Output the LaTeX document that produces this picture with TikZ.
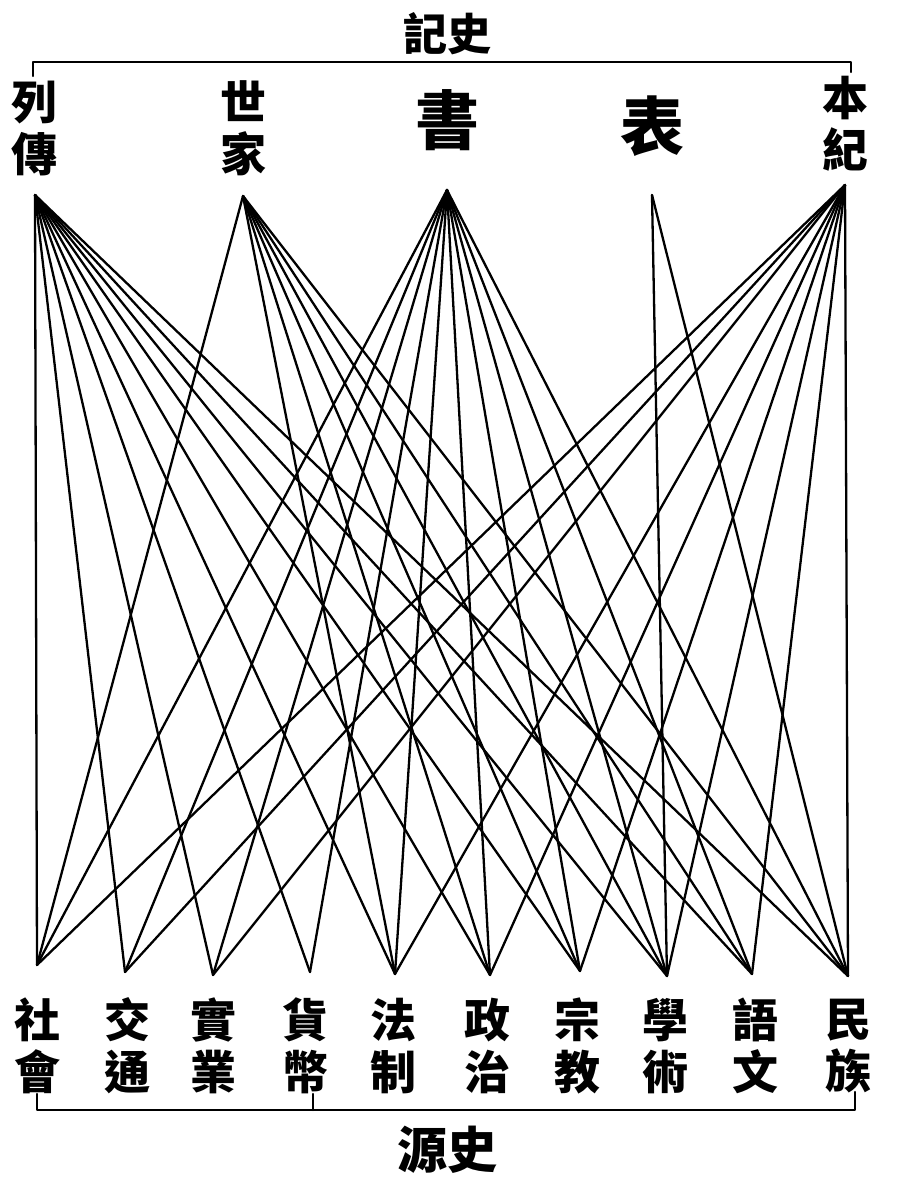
\documentclass[tikz,border=0pt]{standalone}
\usepackage{fontspec}
\newfontfamily\cjk{Noto Sans CJK TC}
\begin{document}
\begin{tikzpicture}[x=1pt,y=-1pt,
  link/.style={line width=2.3pt, line cap=round},
  brace/.style={line width=2.4pt, line cap=round, line join=round},
  lbl/.style={font=\cjk\bfseries\fontsize{46}{52}\selectfont, inner sep=0pt, align=center},
  big/.style={font=\cjk\bfseries\fontsize{64}{64}\selectfont, inner sep=0pt},
  title/.style={font=\cjk\bfseries\fontsize{44}{44}\selectfont, inner sep=0pt}]
\useasboundingbox[fill=white] (0,0) rectangle (898,1179);

% top bracket and title
\node[title] (shiji) at (447,34) {記史};
\coordinate (tbl) at (33,76);
\coordinate (tbr) at (851,72);
\draw[brace] (tbl) -- (33,62) -- (851,62) -- (tbr);

% top labels
\node[lbl] (liezhuan) at (35,128) {列\\傳};
\node[lbl] (shijia) at (243,128) {世\\家};
\node[big] (shu) at (447,120) {書};
\node[big] (biao) at (652,126) {表};
\node[lbl] (benji) at (845,124) {本\\紀};

% fan points
\coordinate (L) at (35,195);
\coordinate (S) at (243,196);
\coordinate (B) at (447,190);
\coordinate (T) at (652,195);
\coordinate (K) at (845,185);

\coordinate (b1) at (37,965);
\coordinate (b2) at (125,972);
\coordinate (b3) at (213,975);
\coordinate (b4) at (310,972);
\coordinate (b5) at (395,974);
\coordinate (b6) at (490,975);
\coordinate (b7) at (580,971);
\coordinate (b8) at (667,976);
\coordinate (b9) at (752,974);
\coordinate (b10) at (848,976);

% 列傳
\foreach \b in {b1,b2,b3,b4,b5,b6,b7,b8,b9,b10} \draw[link] (L) -- (\b);
% 世家
\foreach \b in {b1,b5,b6,b7,b8,b9,b10} \draw[link] (S) -- (\b);
% 書
\foreach \b in {b1,b2,b3,b4,b5,b6,b7,b8,b9,b10} \draw[link] (B) -- (\b);
% 表
\foreach \b in {b8,b10} \draw[link] (T) -- (\b);
% 本紀
\foreach \b in {b1,b2,b3,b5,b6,b7,b8,b9,b10} \draw[link] (K) -- (\b);

% bottom labels
\node[lbl] (shehui) at (37,1046) {社\\會};
\node[lbl] (jiaotong) at (127,1046) {交\\通};
\node[lbl] (shiye) at (213,1046) {實\\業};
\node[lbl] (huobi) at (305,1046) {貨\\幣};
\node[lbl] (fazhi) at (393,1046) {法\\制};
\node[lbl] (zhengzhi) at (487,1046) {政\\治};
\node[lbl] (zongjiao) at (577,1046) {宗\\教};
\node[lbl] (xueshu) at (665,1046) {學\\術};
\node[lbl] (yuwen) at (755,1046) {語\\文};
\node[lbl] (minzu) at (848,1046) {民\\族};

% bottom bracket and title
\coordinate (bbl) at (37,1094);
\coordinate (bbr) at (855,1092);
\coordinate (bbm) at (313,1094);
\draw[brace] (bbl) -- (37,1110) -- (855,1110) -- (bbr);
\draw[brace] (bbm) -- (313,1110);
\node[title,font=\cjk\bfseries\fontsize{50}{50}\selectfont] (shiyuan) at (447,1150) {源史};
\end{tikzpicture}
\end{document}
